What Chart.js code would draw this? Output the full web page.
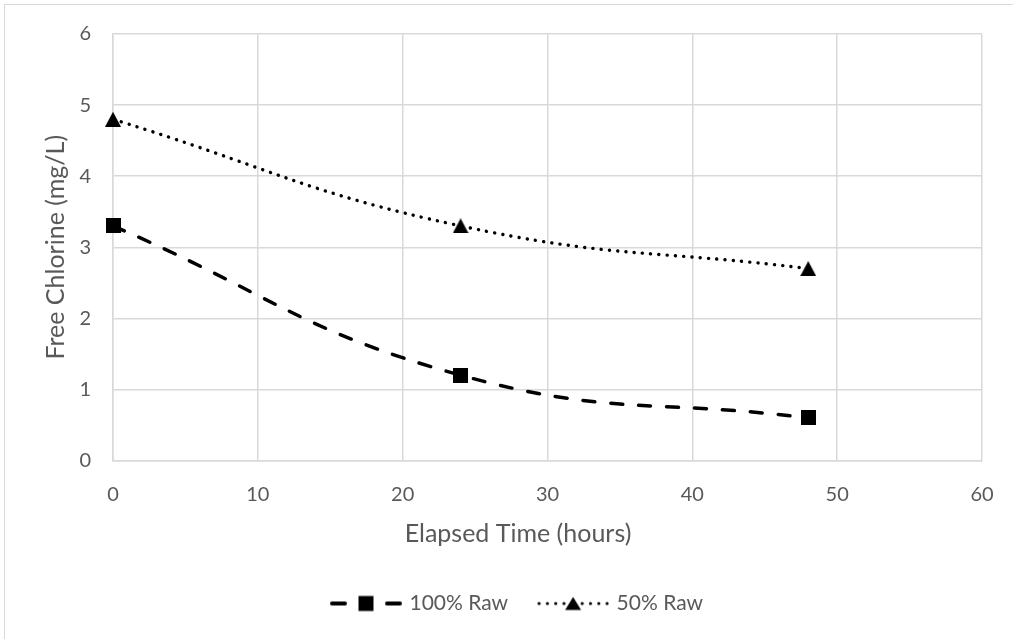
<!DOCTYPE html>
<html>
<head>
<meta charset="utf-8">
<script src="https://cdn.jsdelivr.net/npm/chart.js@4/dist/chart.umd.min.js"></script>
<style>
  html, body { margin: 0; padding: 0; background: #ffffff; overflow: hidden; }
  #wrap { position: relative; width: 1013px; height: 639px; overflow: hidden; }
  #frame { position: absolute; left: 4px; top: 4px; width: 1030px; height: 660px; border: 1px solid #d9d9d9; box-sizing: border-box; }
  #c { position: absolute; left: 0; top: 0; }
</style>
</head>
<body>
<div id="wrap">
  <div id="frame"></div>
  <canvas id="c" width="1013" height="639"></canvas>
</div>
<script>
// ---- data ----
const elapsedHours = [0, 24, 48];
const raw100 = [3.3, 1.2, 0.6];
const raw50 = [4.8, 3.3, 2.7];
const seriesNames = ['100% Raw', '50% Raw'];
const xTickValues = [0, 10, 20, 30, 40, 50, 60];
const yTickValues = [0, 1, 2, 3, 4, 5, 6];
const xTitle = 'Elapsed Time (hours)';
const yTitle = 'Free Chlorine (mg/L)';

// ---- marker images ----
function makeSquare(size) {
  const c = document.createElement('canvas');
  c.width = size; c.height = size;
  const g = c.getContext('2d');
  g.fillStyle = '#000';
  g.fillRect(0, 0, size, size);
  return c;
}
function makeTriangle(w, h) {
  const c = document.createElement('canvas');
  c.width = w; c.height = h;
  const g = c.getContext('2d');
  g.fillStyle = '#000';
  g.beginPath();
  g.moveTo(w / 2, 0);
  g.lineTo(w, h);
  g.lineTo(0, h);
  g.closePath();
  g.fill();
  return c;
}
function makeLegendDash() {
  const W = 72, H = 20;
  const c = document.createElement('canvas');
  c.width = W; c.height = H;
  const g = c.getContext('2d');
  g.strokeStyle = '#000';
  g.lineWidth = 4;
  g.lineCap = 'round';
  g.beginPath();
  g.moveTo(2, 10); g.lineTo(15, 10);
  g.moveTo(57, 10); g.lineTo(70, 10);
  g.stroke();
  g.fillStyle = '#000';
  g.fillRect(28.5, 2.5, 15, 15);
  return c;
}
function makeLegendDots() {
  const W = 72, H = 20;
  const c = document.createElement('canvas');
  c.width = W; c.height = H;
  const g = c.getContext('2d');
  g.fillStyle = '#000';
  [2, 10.3, 18.6, 26.9, 45.1, 53.4, 61.7, 70].forEach(x => {
    g.beginPath(); g.arc(x, 10, 1.6, 0, Math.PI * 2); g.fill();
  });
  g.beginPath();
  g.moveTo(36, 3.5); g.lineTo(44, 16.5); g.lineTo(28, 16.5); g.closePath(); g.fill();
  return c;
}
const squareImg = makeSquare(15);
const triangleImg = makeTriangle(16, 15);
const legendImgs = [makeLegendDash(), makeLegendDots()];

const textColor = '#595959';
const gridColor = '#d9d9d9';
Chart.defaults.font.family = 'Lato, "Open Sans", sans-serif';
Chart.defaults.font.size = 20;
Chart.defaults.color = textColor;

const toPoints = (xs, ys) => xs.map((x, i) => ({ x: x, y: ys[i] }));

new Chart(document.getElementById('c'), {
  type: 'line',
  data: {
    datasets: [
      {
        label: seriesNames[0],
        data: toPoints(elapsedHours, raw100),
        borderColor: '#000',
        backgroundColor: '#000',
        borderWidth: 3.5,
        borderDash: [12, 16],
        borderCapStyle: 'round',
        tension: 0.45,
        pointStyle: squareImg,
        pointRadius: 5,
        pointHoverRadius: 5,
        clip: false,
        fill: false
      },
      {
        label: seriesNames[1],
        data: toPoints(elapsedHours, raw50),
        borderColor: '#000',
        backgroundColor: '#000',
        borderWidth: 3.4,
        borderDash: [0.1, 8.2],
        borderCapStyle: 'round',
        tension: 0.45,
        pointStyle: triangleImg,
        pointRadius: 5,
        pointHoverRadius: 5,
        clip: false,
        fill: false
      }
    ]
  },
  options: {
    responsive: false,
    animation: false,
    devicePixelRatio: 1,
    layout: { padding: { top: 33, left: 23, right: 0, bottom: 15 } },
    plugins: {
      tooltip: { enabled: false },
      title: {
        display: true,
        position: 'bottom',
        weight: 500,
        text: xTitle,
        color: textColor,
        font: { size: 25, weight: 'normal' },
        padding: { top: 8.5, bottom: 12 }
      },
      legend: {
        position: 'bottom',
        weight: 1000,
        labels: {
          usePointStyle: true,
          pointStyleWidth: 66,
          padding: 32,
          color: textColor,
          font: { size: 21 },
          generateLabels: (chart) => {
            const items = Chart.defaults.plugins.legend.labels.generateLabels(chart);
            items.forEach((it, i) => { it.pointStyle = legendImgs[i]; it.lineWidth = 0; });
            return items;
          }
        }
      }
    },
    scales: {
      x: {
        type: 'linear',
        min: xTickValues[0],
        max: xTickValues[xTickValues.length - 1],
        afterBuildTicks: (s) => { s.ticks = xTickValues.map(v => ({ value: v })); },
        afterFit: (s) => { s.height = 50; s.paddingRight = Math.min(s.paddingRight, 20); },
        grid: { color: gridColor, lineWidth: 1.5, drawTicks: false },
        border: { color: gridColor, width: 1.5 },
        ticks: { padding: 22, color: textColor, font: { size: 20 } },
        title: { display: false }
      },
      y: {
        type: 'linear',
        min: yTickValues[0],
        max: yTickValues[yTickValues.length - 1],
        afterBuildTicks: (s) => { s.ticks = yTickValues.map(v => ({ value: v })); },
        afterFit: (s) => { s.width = 90; },
        grid: { color: gridColor, lineWidth: 1.5, drawTicks: false },
        border: { color: gridColor, width: 1.5 },
        ticks: { padding: 22, color: textColor, font: { size: 20 } },
        title: { display: true, text: yTitle, color: textColor, font: { size: 25 }, padding: { top: 18, bottom: 0 } }
      },
      yRight: {
        type: 'linear',
        position: 'right',
        display: true,
        afterFit: (s) => { s.width = 31; },
        grid: { display: false, drawTicks: false },
        border: { display: false },
        ticks: { display: false }
      }
    }
  }
});
</script>
</body>
</html>
